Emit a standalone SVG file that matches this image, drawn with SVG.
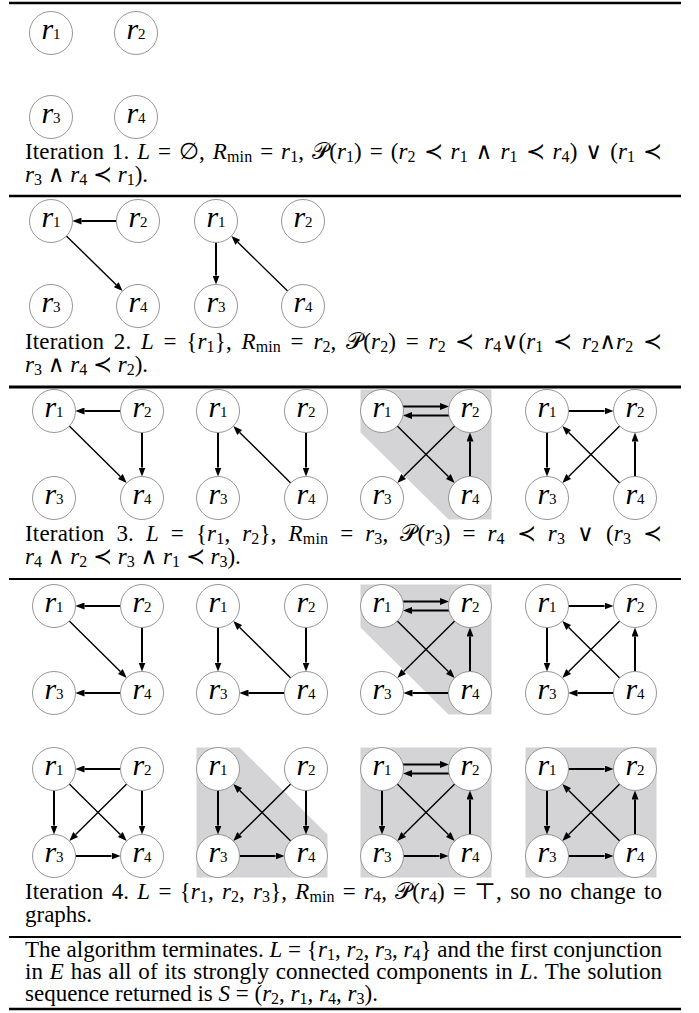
<svg xmlns="http://www.w3.org/2000/svg" width="699" height="1013" viewBox="0 0 699 1013">
<defs>
<marker id="ah" viewBox="0 0 9 7" refX="0" refY="3.5" markerWidth="9" markerHeight="7" markerUnits="userSpaceOnUse" orient="auto"><path d="M0,0 L9,3.5 L0,7 z" fill="#000"/></marker>
<style>
.rule{stroke:#000;fill:none}
.t{font-family:"Liberation Serif","DejaVu Serif",serif;font-size:23px;fill:#000}
.i{font-style:italic}
.s{font-size:16px;baseline-shift:-3px}
.n circle{fill:#fff;stroke:#8a8a8a;stroke-width:0.9}
.n text{font-family:"Liberation Serif","DejaVu Serif",serif;text-anchor:middle;fill:#000}
.v{font-style:italic;font-size:30px}
.k{font-size:15px}
.h,.d{fill:none;stroke:#000;marker-end:url(#ah)}
.h{stroke-width:2}
.d{stroke-width:1.4}
.sh{fill:#d4d4d6;stroke:none}
</style>
</defs>
<rect width="699" height="1013" fill="#fff"/>

<g id="rules">
<line class="rule" x1="9" y1="3" x2="681" y2="3" stroke-width="2.5"/>
<line class="rule" x1="9" y1="196" x2="681" y2="196" stroke-width="2.5"/>
<line class="rule" x1="9" y1="387" x2="681" y2="387" stroke-width="3"/>
<line class="rule" x1="9" y1="579" x2="681" y2="579" stroke-width="2.2"/>
<line class="rule" x1="9" y1="937" x2="681" y2="937" stroke-width="2"/>
<line class="rule" x1="9" y1="1009" x2="681" y2="1009" stroke-width="2.5"/>
</g>

<g id="shading">
<polygon class="sh" transform="translate(382,411)" points="-21.5,-21.5 109.5,-21.5 109.5,108.5 66.5,108.5 -21.5,21.5"/>
<polygon class="sh" transform="translate(382,606)" points="-21.5,-21.5 109.5,-21.5 109.5,108.5 66.5,108.5 -21.5,21.5"/>
<polygon class="sh" transform="translate(218,769)" points="-21.5,-21.5 21.5,-21.5 109.5,65.5 109.5,108.5 -21.5,108.5"/>
<rect class="sh" x="360.5" y="747.5" width="131" height="130"/>
<rect class="sh" x="525.5" y="747.5" width="131" height="130"/>
</g>

<g id="connectors">
<g id="c-s2a" transform="translate(51,221)">
<path class="h" d="M65.5,0 H30.5"/>
<path class="d" d="M15.38,15.02 L65.18,63.69"/>
</g>
<g id="c-s2b" transform="translate(216,221)">
<path class="h" d="M0,21.5 V54.5"/>
<path class="d" d="M71.62,69.98 L21.82,21.31"/>
</g>
<g id="c-s3a" transform="translate(54,411)">
<path class="h" d="M66.5,0 H30.5"/>
<path class="d" d="M15.29,15.11 L66.31,65.56"/>
<path class="h" d="M88,21.5 V56.5"/>
</g>
<g id="c-s3b" transform="translate(218,411)">
<path class="h" d="M0,21.5 V56.5"/>
<path class="d" d="M72.71,71.89 L21.69,21.44"/>
<path class="h" d="M88,21.5 V56.5"/>
</g>
<g id="c-s3c" transform="translate(382,411)">
<path class="h" d="M21,-4.5 H58"/>
<path class="h" d="M67,4.5 H30"/>
<path class="d" d="M15.29,15.11 L66.31,65.56"/>
<path class="d" d="M72.71,15.11 L21.69,65.56"/>
<path class="h" d="M88,65.5 V30.5"/>
</g>
<g id="c-s3d" transform="translate(547,411)">
<path class="h" d="M21.5,0 H57.5"/>
<path class="h" d="M0,21.5 V56.5"/>
<path class="d" d="M72.71,15.11 L21.69,65.56"/>
<path class="d" d="M72.71,71.89 L21.69,21.44"/>
<path class="h" d="M88,65.5 V30.5"/>
</g>
<g id="c-s4a" transform="translate(54,606)">
<path class="h" d="M66.5,0 H30.5"/>
<path class="d" d="M15.29,15.11 L66.31,65.56"/>
<path class="h" d="M88,21.5 V56.5"/>
<path class="h" d="M66.5,87 H30.5"/>
</g>
<g id="c-s4b" transform="translate(218,606)">
<path class="h" d="M0,21.5 V56.5"/>
<path class="d" d="M72.71,71.89 L21.69,21.44"/>
<path class="h" d="M88,21.5 V56.5"/>
<path class="h" d="M66.5,87 H30.5"/>
</g>
<g id="c-s4c" transform="translate(382,606)">
<path class="h" d="M21,-4.5 H58"/>
<path class="h" d="M67,4.5 H30"/>
<path class="d" d="M15.29,15.11 L66.31,65.56"/>
<path class="d" d="M72.71,15.11 L21.69,65.56"/>
<path class="h" d="M88,65.5 V30.5"/>
<path class="h" d="M66.5,87 H30.5"/>
</g>
<g id="c-s4d" transform="translate(547,606)">
<path class="h" d="M21.5,0 H57.5"/>
<path class="h" d="M0,21.5 V56.5"/>
<path class="d" d="M72.71,15.11 L21.69,65.56"/>
<path class="d" d="M72.71,71.89 L21.69,21.44"/>
<path class="h" d="M88,65.5 V30.5"/>
<path class="h" d="M66.5,87 H30.5"/>
</g>
<g id="c-s4e" transform="translate(54,769)">
<path class="h" d="M66.5,0 H30.5"/>
<path class="h" d="M0,21.5 V56.5"/>
<path class="d" d="M15.29,15.11 L66.31,65.56"/>
<path class="d" d="M72.71,15.11 L21.69,65.56"/>
<path class="h" d="M88,21.5 V56.5"/>
<path class="h" d="M21.5,87 H57.5"/>
</g>
<g id="c-s4f" transform="translate(218,769)">
<path class="h" d="M0,21.5 V56.5"/>
<path class="d" d="M72.71,15.11 L21.69,65.56"/>
<path class="h" d="M88,21.5 V56.5"/>
<path class="d" d="M72.71,71.89 L21.69,21.44"/>
<path class="h" d="M21.5,87 H57.5"/>
</g>
<g id="c-s4g" transform="translate(382,769)">
<path class="h" d="M21,-4.5 H58"/>
<path class="h" d="M67,4.5 H30"/>
<path class="h" d="M0,21.5 V56.5"/>
<path class="d" d="M15.29,15.11 L66.31,65.56"/>
<path class="d" d="M72.71,15.11 L21.69,65.56"/>
<path class="h" d="M88,65.5 V30.5"/>
<path class="h" d="M21.5,87 H57.5"/>
</g>
<g id="c-s4h" transform="translate(547,769)">
<path class="h" d="M21.5,0 H57.5"/>
<path class="h" d="M0,21.5 V56.5"/>
<path class="d" d="M72.71,15.11 L21.69,65.56"/>
<path class="d" d="M72.71,71.89 L21.69,21.44"/>
<path class="h" d="M88,65.5 V30.5"/>
<path class="h" d="M21.5,87 H57.5"/>
</g>
</g>

<g id="nodes">
<g id="s1-r1" class="n" transform="translate(51,33)"><circle r="21.5"/><text y="6"><tspan class="v">r</tspan><tspan class="k">1</tspan></text></g>
<g id="s1-r2" class="n" transform="translate(136,33)"><circle r="21.5"/><text y="6"><tspan class="v">r</tspan><tspan class="k">2</tspan></text></g>
<g id="s1-r3" class="n" transform="translate(51,117)"><circle r="21.5"/><text y="6"><tspan class="v">r</tspan><tspan class="k">3</tspan></text></g>
<g id="s1-r4" class="n" transform="translate(136,117)"><circle r="21.5"/><text y="6"><tspan class="v">r</tspan><tspan class="k">4</tspan></text></g>

<g id="s2a-r1" class="n" transform="translate(51,221)"><circle r="21.5"/><text y="6"><tspan class="v">r</tspan><tspan class="k">1</tspan></text></g>
<g id="s2a-r2" class="n" transform="translate(138,221)"><circle r="21.5"/><text y="6"><tspan class="v">r</tspan><tspan class="k">2</tspan></text></g>
<g id="s2a-r3" class="n" transform="translate(51,306)"><circle r="21.5"/><text y="6"><tspan class="v">r</tspan><tspan class="k">3</tspan></text></g>
<g id="s2a-r4" class="n" transform="translate(138,306)"><circle r="21.5"/><text y="6"><tspan class="v">r</tspan><tspan class="k">4</tspan></text></g>
<g id="s2b-r1" class="n" transform="translate(216,221)"><circle r="21.5"/><text y="6"><tspan class="v">r</tspan><tspan class="k">1</tspan></text></g>
<g id="s2b-r2" class="n" transform="translate(303,221)"><circle r="21.5"/><text y="6"><tspan class="v">r</tspan><tspan class="k">2</tspan></text></g>
<g id="s2b-r3" class="n" transform="translate(216,306)"><circle r="21.5"/><text y="6"><tspan class="v">r</tspan><tspan class="k">3</tspan></text></g>
<g id="s2b-r4" class="n" transform="translate(303,306)"><circle r="21.5"/><text y="6"><tspan class="v">r</tspan><tspan class="k">4</tspan></text></g>

<g id="s3a-r1" class="n" transform="translate(54,411)"><circle r="21.5"/><text y="6"><tspan class="v">r</tspan><tspan class="k">1</tspan></text></g>
<g id="s3a-r2" class="n" transform="translate(142,411)"><circle r="21.5"/><text y="6"><tspan class="v">r</tspan><tspan class="k">2</tspan></text></g>
<g id="s3a-r3" class="n" transform="translate(54,498)"><circle r="21.5"/><text y="6"><tspan class="v">r</tspan><tspan class="k">3</tspan></text></g>
<g id="s3a-r4" class="n" transform="translate(142,498)"><circle r="21.5"/><text y="6"><tspan class="v">r</tspan><tspan class="k">4</tspan></text></g>
<g id="s3b-r1" class="n" transform="translate(218,411)"><circle r="21.5"/><text y="6"><tspan class="v">r</tspan><tspan class="k">1</tspan></text></g>
<g id="s3b-r2" class="n" transform="translate(306,411)"><circle r="21.5"/><text y="6"><tspan class="v">r</tspan><tspan class="k">2</tspan></text></g>
<g id="s3b-r3" class="n" transform="translate(218,498)"><circle r="21.5"/><text y="6"><tspan class="v">r</tspan><tspan class="k">3</tspan></text></g>
<g id="s3b-r4" class="n" transform="translate(306,498)"><circle r="21.5"/><text y="6"><tspan class="v">r</tspan><tspan class="k">4</tspan></text></g>
<g id="s3c-r1" class="n" transform="translate(382,411)"><circle r="21.5"/><text y="6"><tspan class="v">r</tspan><tspan class="k">1</tspan></text></g>
<g id="s3c-r2" class="n" transform="translate(470,411)"><circle r="21.5"/><text y="6"><tspan class="v">r</tspan><tspan class="k">2</tspan></text></g>
<g id="s3c-r3" class="n" transform="translate(382,498)"><circle r="21.5"/><text y="6"><tspan class="v">r</tspan><tspan class="k">3</tspan></text></g>
<g id="s3c-r4" class="n" transform="translate(470,498)"><circle r="21.5"/><text y="6"><tspan class="v">r</tspan><tspan class="k">4</tspan></text></g>
<g id="s3d-r1" class="n" transform="translate(547,411)"><circle r="21.5"/><text y="6"><tspan class="v">r</tspan><tspan class="k">1</tspan></text></g>
<g id="s3d-r2" class="n" transform="translate(635,411)"><circle r="21.5"/><text y="6"><tspan class="v">r</tspan><tspan class="k">2</tspan></text></g>
<g id="s3d-r3" class="n" transform="translate(547,498)"><circle r="21.5"/><text y="6"><tspan class="v">r</tspan><tspan class="k">3</tspan></text></g>
<g id="s3d-r4" class="n" transform="translate(635,498)"><circle r="21.5"/><text y="6"><tspan class="v">r</tspan><tspan class="k">4</tspan></text></g>

<g id="s4a-r1" class="n" transform="translate(54,606)"><circle r="21.5"/><text y="6"><tspan class="v">r</tspan><tspan class="k">1</tspan></text></g>
<g id="s4a-r2" class="n" transform="translate(142,606)"><circle r="21.5"/><text y="6"><tspan class="v">r</tspan><tspan class="k">2</tspan></text></g>
<g id="s4a-r3" class="n" transform="translate(54,693)"><circle r="21.5"/><text y="6"><tspan class="v">r</tspan><tspan class="k">3</tspan></text></g>
<g id="s4a-r4" class="n" transform="translate(142,693)"><circle r="21.5"/><text y="6"><tspan class="v">r</tspan><tspan class="k">4</tspan></text></g>
<g id="s4b-r1" class="n" transform="translate(218,606)"><circle r="21.5"/><text y="6"><tspan class="v">r</tspan><tspan class="k">1</tspan></text></g>
<g id="s4b-r2" class="n" transform="translate(306,606)"><circle r="21.5"/><text y="6"><tspan class="v">r</tspan><tspan class="k">2</tspan></text></g>
<g id="s4b-r3" class="n" transform="translate(218,693)"><circle r="21.5"/><text y="6"><tspan class="v">r</tspan><tspan class="k">3</tspan></text></g>
<g id="s4b-r4" class="n" transform="translate(306,693)"><circle r="21.5"/><text y="6"><tspan class="v">r</tspan><tspan class="k">4</tspan></text></g>
<g id="s4c-r1" class="n" transform="translate(382,606)"><circle r="21.5"/><text y="6"><tspan class="v">r</tspan><tspan class="k">1</tspan></text></g>
<g id="s4c-r2" class="n" transform="translate(470,606)"><circle r="21.5"/><text y="6"><tspan class="v">r</tspan><tspan class="k">2</tspan></text></g>
<g id="s4c-r3" class="n" transform="translate(382,693)"><circle r="21.5"/><text y="6"><tspan class="v">r</tspan><tspan class="k">3</tspan></text></g>
<g id="s4c-r4" class="n" transform="translate(470,693)"><circle r="21.5"/><text y="6"><tspan class="v">r</tspan><tspan class="k">4</tspan></text></g>
<g id="s4d-r1" class="n" transform="translate(547,606)"><circle r="21.5"/><text y="6"><tspan class="v">r</tspan><tspan class="k">1</tspan></text></g>
<g id="s4d-r2" class="n" transform="translate(635,606)"><circle r="21.5"/><text y="6"><tspan class="v">r</tspan><tspan class="k">2</tspan></text></g>
<g id="s4d-r3" class="n" transform="translate(547,693)"><circle r="21.5"/><text y="6"><tspan class="v">r</tspan><tspan class="k">3</tspan></text></g>
<g id="s4d-r4" class="n" transform="translate(635,693)"><circle r="21.5"/><text y="6"><tspan class="v">r</tspan><tspan class="k">4</tspan></text></g>

<g id="s4e-r1" class="n" transform="translate(54,769)"><circle r="21.5"/><text y="6"><tspan class="v">r</tspan><tspan class="k">1</tspan></text></g>
<g id="s4e-r2" class="n" transform="translate(142,769)"><circle r="21.5"/><text y="6"><tspan class="v">r</tspan><tspan class="k">2</tspan></text></g>
<g id="s4e-r3" class="n" transform="translate(54,856)"><circle r="21.5"/><text y="6"><tspan class="v">r</tspan><tspan class="k">3</tspan></text></g>
<g id="s4e-r4" class="n" transform="translate(142,856)"><circle r="21.5"/><text y="6"><tspan class="v">r</tspan><tspan class="k">4</tspan></text></g>
<g id="s4f-r1" class="n" transform="translate(218,769)"><circle r="21.5"/><text y="6"><tspan class="v">r</tspan><tspan class="k">1</tspan></text></g>
<g id="s4f-r2" class="n" transform="translate(306,769)"><circle r="21.5"/><text y="6"><tspan class="v">r</tspan><tspan class="k">2</tspan></text></g>
<g id="s4f-r3" class="n" transform="translate(218,856)"><circle r="21.5"/><text y="6"><tspan class="v">r</tspan><tspan class="k">3</tspan></text></g>
<g id="s4f-r4" class="n" transform="translate(306,856)"><circle r="21.5"/><text y="6"><tspan class="v">r</tspan><tspan class="k">4</tspan></text></g>
<g id="s4g-r1" class="n" transform="translate(382,769)"><circle r="21.5"/><text y="6"><tspan class="v">r</tspan><tspan class="k">1</tspan></text></g>
<g id="s4g-r2" class="n" transform="translate(470,769)"><circle r="21.5"/><text y="6"><tspan class="v">r</tspan><tspan class="k">2</tspan></text></g>
<g id="s4g-r3" class="n" transform="translate(382,856)"><circle r="21.5"/><text y="6"><tspan class="v">r</tspan><tspan class="k">3</tspan></text></g>
<g id="s4g-r4" class="n" transform="translate(470,856)"><circle r="21.5"/><text y="6"><tspan class="v">r</tspan><tspan class="k">4</tspan></text></g>
<g id="s4h-r1" class="n" transform="translate(547,769)"><circle r="21.5"/><text y="6"><tspan class="v">r</tspan><tspan class="k">1</tspan></text></g>
<g id="s4h-r2" class="n" transform="translate(635,769)"><circle r="21.5"/><text y="6"><tspan class="v">r</tspan><tspan class="k">2</tspan></text></g>
<g id="s4h-r3" class="n" transform="translate(547,856)"><circle r="21.5"/><text y="6"><tspan class="v">r</tspan><tspan class="k">3</tspan></text></g>
<g id="s4h-r4" class="n" transform="translate(635,856)"><circle r="21.5"/><text y="6"><tspan class="v">r</tspan><tspan class="k">4</tspan></text></g>
</g>

<g id="captions">
<text class="t" x="25" y="159" textLength="637" lengthAdjust="spacing" style="word-spacing:2px">Iteration 1. <tspan class="i">L</tspan> = ∅, <tspan class="i">R</tspan><tspan class="s">min</tspan> = <tspan class="i">r</tspan><tspan class="s">1</tspan>, 𝒫(<tspan class="i">r</tspan><tspan class="s">1</tspan>) = (<tspan class="i">r</tspan><tspan class="s">2</tspan> ≺ <tspan class="i">r</tspan><tspan class="s">1</tspan> ∧ <tspan class="i">r</tspan><tspan class="s">1</tspan> ≺ <tspan class="i">r</tspan><tspan class="s">4</tspan>) ∨ (<tspan class="i">r</tspan><tspan class="s">1</tspan> ≺</text>
<text class="t" x="25" y="182"><tspan class="i">r</tspan><tspan class="s">3</tspan> ∧ <tspan class="i">r</tspan><tspan class="s">4</tspan> ≺ <tspan class="i">r</tspan><tspan class="s">1</tspan>).</text>

<text class="t" x="25" y="349" textLength="637" lengthAdjust="spacing" style="word-spacing:3.8px">Iteration 2. <tspan class="i">L</tspan> = {<tspan class="i">r</tspan><tspan class="s">1</tspan>}, <tspan class="i">R</tspan><tspan class="s">min</tspan> = <tspan class="i">r</tspan><tspan class="s">2</tspan>, 𝒫(<tspan class="i">r</tspan><tspan class="s">2</tspan>) = <tspan class="i">r</tspan><tspan class="s">2</tspan> ≺ <tspan class="i">r</tspan><tspan class="s">4</tspan>∨(<tspan class="i">r</tspan><tspan class="s">1</tspan> ≺ <tspan class="i">r</tspan><tspan class="s">2</tspan>∧<tspan class="i">r</tspan><tspan class="s">2</tspan> ≺</text>
<text class="t" x="25" y="372"><tspan class="i">r</tspan><tspan class="s">3</tspan> ∧ <tspan class="i">r</tspan><tspan class="s">4</tspan> ≺ <tspan class="i">r</tspan><tspan class="s">2</tspan>).</text>

<text class="t" x="25" y="541" textLength="637" lengthAdjust="spacing" style="word-spacing:6px">Iteration 3. <tspan class="i">L</tspan> = {<tspan class="i">r</tspan><tspan class="s">1</tspan>, <tspan class="i">r</tspan><tspan class="s">2</tspan>}, <tspan class="i">R</tspan><tspan class="s">min</tspan> = <tspan class="i">r</tspan><tspan class="s">3</tspan>, 𝒫(<tspan class="i">r</tspan><tspan class="s">3</tspan>) = <tspan class="i">r</tspan><tspan class="s">4</tspan> ≺ <tspan class="i">r</tspan><tspan class="s">3</tspan> ∨ (<tspan class="i">r</tspan><tspan class="s">3</tspan> ≺</text>
<text class="t" x="25" y="564"><tspan class="i">r</tspan><tspan class="s">4</tspan> ∧ <tspan class="i">r</tspan><tspan class="s">2</tspan> ≺ <tspan class="i">r</tspan><tspan class="s">3</tspan> ∧ <tspan class="i">r</tspan><tspan class="s">1</tspan> ≺ <tspan class="i">r</tspan><tspan class="s">3</tspan>).</text>

<text class="t" x="25" y="899" textLength="637" lengthAdjust="spacing" style="word-spacing:2.5px">Iteration 4. <tspan class="i">L</tspan> = {<tspan class="i">r</tspan><tspan class="s">1</tspan>, <tspan class="i">r</tspan><tspan class="s">2</tspan>, <tspan class="i">r</tspan><tspan class="s">3</tspan>}, <tspan class="i">R</tspan><tspan class="s">min</tspan> = <tspan class="i">r</tspan><tspan class="s">4</tspan>, 𝒫(<tspan class="i">r</tspan><tspan class="s">4</tspan>) = ⊤, so no change to</text>
<text class="t" x="25" y="922">graphs.</text>

<text class="t" x="25" y="957" textLength="637" lengthAdjust="spacing">The algorithm terminates. <tspan class="i">L</tspan> = {<tspan class="i">r</tspan><tspan class="s">1</tspan>, <tspan class="i">r</tspan><tspan class="s">2</tspan>, <tspan class="i">r</tspan><tspan class="s">3</tspan>, <tspan class="i">r</tspan><tspan class="s">4</tspan>} and the first conjunction</text>
<text class="t" x="25" y="979" textLength="637" lengthAdjust="spacing" style="word-spacing:1px">in <tspan class="i">E</tspan> has all of its strongly connected components in <tspan class="i">L</tspan>. The solution</text>
<text class="t" x="25" y="1001">sequence returned is <tspan class="i">S</tspan> = (<tspan class="i">r</tspan><tspan class="s">2</tspan>, <tspan class="i">r</tspan><tspan class="s">1</tspan>, <tspan class="i">r</tspan><tspan class="s">4</tspan>, <tspan class="i">r</tspan><tspan class="s">3</tspan>).</text>
</g>
</svg>
